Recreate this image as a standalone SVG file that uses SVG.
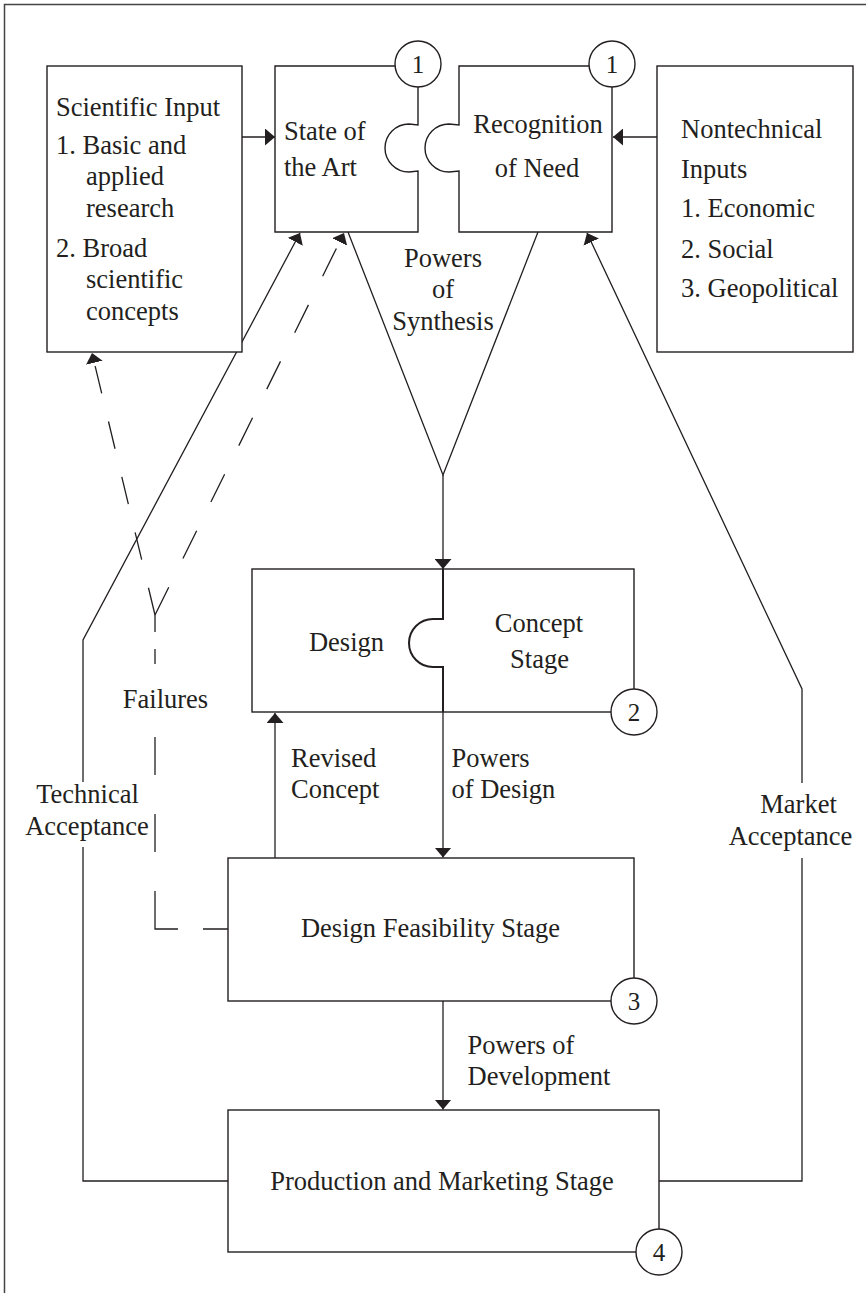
<svg xmlns="http://www.w3.org/2000/svg" width="866" height="1293" viewBox="0 0 866 1293">
<defs>
<style>
.t{font-family:"Liberation Serif","Times New Roman",serif;font-size:26.5px;fill:#231f20}
.m{text-anchor:middle}
.n{font-family:"Liberation Serif","Times New Roman",serif;font-size:25px;fill:#231f20;text-anchor:middle}
.b{fill:#fff;stroke:#231f20;stroke-width:1.4}
.c{fill:none;stroke:#231f20;stroke-width:1.3}
.a{marker-end:url(#ah)}
</style>
<marker id="ah" viewBox="0 0 10 17" refX="10" refY="8.5" markerWidth="10" markerHeight="17" markerUnits="userSpaceOnUse" orient="auto"><path d="M0,0 L10,8.5 L0,17 Z" fill="#231f20"/></marker>
</defs>
<rect width="866" height="1293" fill="#fff"/>
<path d="M4.5,1293 V4.5 H866" fill="none" stroke="#444" stroke-width="1.5"/>

<g id="connectors">
<path class="c a" d="M242,137 H275"/>
<path class="c a" d="M657,137 H613"/>
<path class="c" d="M348,232 L443,475 L538,232"/>
<path class="c a" d="M443,475 V569"/>
<path class="c a" d="M443,712 V857.5"/>
<path class="c a" d="M275,858 V713"/>
<path class="c a" d="M443,1001 V1109.5"/>
<path class="c" d="M228,1181 H83 V847"/>
<path class="c a" d="M83,782 V640 L300,233"/>
<path class="c" d="M659,1181 H802 V858"/>
<path class="c a" d="M802,783 V689 L587,233"/>
<path class="c a" d="M155,615 L92,353" stroke-dasharray="28 29"/>
<path class="c a" d="M155,615 L344,233" stroke-dasharray="31 32"/>
<path class="c" d="M155,615 V632 M155,649 V664 M155,737 V775 M155,814 V852 M155,891 V929 H178 M203,929 H228"/>
<text class="t m" x="443" y="266.7">Powers</text>
<text class="t m" x="443" y="298">of</text>
<text class="t m" x="443" y="330">Synthesis</text>
<text class="t m" x="165.5" y="707.5">Failures</text>
<text class="t m" x="87.5" y="803">Technical</text>
<text class="t m" x="87" y="835">Acceptance</text>
<text class="t" x="291" y="766.7">Revised</text>
<text class="t" x="291" y="798">Concept</text>
<text class="t" x="451.5" y="766.7">Powers</text>
<text class="t" x="451.5" y="798">of Design</text>
<text class="t m" x="798.5" y="813">Market</text>
<text class="t m" x="790.5" y="845">Acceptance</text>
<text class="t" x="467.5" y="1053.5">Powers of</text>
<text class="t" x="467.5" y="1085">Development</text>
</g>

<g id="scientific-input">
<rect class="b" x="47" y="66" width="195" height="286"/>
<text class="t" x="56" y="115.5">Scientific Input</text>
<text class="t" x="56" y="153.5">1. Basic and</text>
<text class="t" x="86" y="185">applied</text>
<text class="t" x="86" y="217">research</text>
<text class="t" x="56" y="257">2. Broad</text>
<text class="t" x="86" y="288">scientific</text>
<text class="t" x="86" y="320">concepts</text>
</g>

<g id="state-of-the-art">
<path class="b" d="M275,66 H418 V125 L409,124 A24,24 0 1 0 409,172 L418,171 V232 H275 Z"/>
<text class="t" x="284" y="140">State of</text>
<text class="t" x="284" y="176">the Art</text>
<circle class="b" cx="418" cy="64" r="23"/>
<text class="n" x="418" y="73">1</text>
</g>

<g id="recognition-of-need">
<path class="b" d="M459,66 H612 V232 H459 V171 L449,172 A24,24 0 1 1 449,124 L459,125 Z"/>
<text class="t m" x="538" y="133">Recognition</text>
<text class="t m" x="537" y="177">of Need</text>
<circle class="b" cx="612" cy="64" r="23"/>
<text class="n" x="612" y="73">1</text>
</g>

<g id="nontechnical-inputs">
<rect class="b" x="657" y="66" width="196" height="286"/>
<text class="t" x="681" y="138">Nontechnical</text>
<text class="t" x="681" y="178">Inputs</text>
<text class="t" x="681" y="217.3">1. Economic</text>
<text class="t" x="681" y="257.7">2. Social</text>
<text class="t" x="681" y="296.7">3. Geopolitical</text>
</g>

<g id="design-concept-stage">
<rect class="b" x="252" y="569" width="382" height="143"/>
<path fill="none" stroke="#231f20" stroke-width="2" d="M443,569 V619 L433,619 A24,24 0 1 0 433,667 L443,667 V712"/>
<text class="t m" x="346.5" y="650.7">Design</text>
<text class="t m" x="539" y="632">Concept</text>
<text class="t m" x="539.5" y="668">Stage</text>
<circle class="b" cx="634" cy="712" r="23"/>
<text class="n" x="634" y="721">2</text>
</g>

<g id="design-feasibility-stage">
<rect class="b" x="228" y="858" width="406" height="143"/>
<text class="t m" x="430.5" y="937">Design Feasibility Stage</text>
<circle class="b" cx="634" cy="1001" r="23"/>
<text class="n" x="634" y="1010">3</text>
</g>

<g id="production-marketing-stage">
<rect class="b" x="228" y="1110" width="431" height="142"/>
<text class="t m" x="442" y="1190">Production and Marketing Stage</text>
<circle class="b" cx="659" cy="1252" r="23"/>
<text class="n" x="659" y="1261">4</text>
</g>
</svg>
